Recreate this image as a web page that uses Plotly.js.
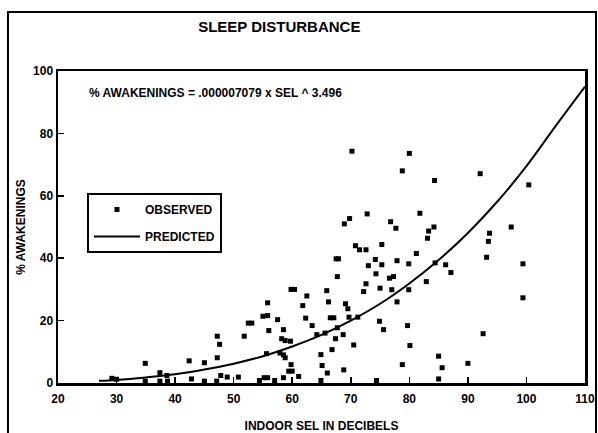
<!DOCTYPE html>
<html>
<head>
<meta charset="utf-8">
<script src="https://cdn.plot.ly/plotly-3.0.1.min.js"></script>
<style>html,body{margin:0;padding:0;background:#fff;}#chart{width:598px;height:433px;}</style>
</head>
<body>
<div id="chart"></div>
<script>
// Observed points (indoor SEL dB, % awakenings)
const obsSEL = [
 29.2,30.0,34.9,34.9,37.4,37.4,38.6,38.7,42.4,42.8,45.0,45.0,47.2,47.6,47.2,47.1,47.8,48.9,50.8,51.8,52.5,53.1,54.4,55.2,55.8,57.0,
 68.9,69.8,76.8,77.7,83.1,83.3,84.2,70.8,71.5,72.6,75.3,81.2,67.5,67.9,74.2,77.9,73.0,75.3,79.9,84.4,86.2,87.1,74.3,67.7,76.6,77.3,
 72.6,82.9,59.8,60.4,65.9,72.2,75.0,77.0,79.9,55.8,62.5,61.8,66.2,69.1,69.5,77.9,55.0,55.8,57.5,62.3,66.5,67.1,69.7,71.2,63.4,74.9,
 79.7,56.0,58.5,75.6,64.2,65.6,67.7,68.7,58.2,58.8,59.7,67.4,55.6,57.9,58.5,58.8,66.8,70.5,80.1,64.9,65.1,59.8,59.4,60.0,68.8,66.0,
 61.1,58.5,78.8,85.0,85.6,85.0,64.9,74.4,
 70.2,80.0,78.8,84.3,72.8,81.8,
 92.1,100.4,97.4,93.7,93.5,93.2,99.4,99.4,92.6,90.0
];
const obsPct = [
 1.5,1.2,6.3,0.6,3.3,0.6,2.4,0.6,7.1,1.3,6.5,0.6,15.0,12.4,8.1,0.6,2.4,1.9,1.9,15.0,19.2,19.2,0.8,1.7,1.7,0.8,
 51.0,52.7,51.7,49.6,46.4,48.7,50.0,44.0,42.7,42.7,44.4,41.5,39.8,39.8,39.6,39.2,37.6,37.9,38.2,38.5,37.9,35.4,35.0,34.1,33.6,34.1,
 31.8,32.5,30.0,30.0,29.6,29.3,30.4,29.9,29.9,25.7,27.9,24.8,26.0,25.4,23.8,26.0,21.4,21.6,20.3,20.8,20.9,20.9,21.1,21.1,18.4,19.8,
 18.4,16.8,17.1,17.1,15.5,16.0,17.7,15.5,14.2,13.6,13.4,14.2,9.4,9.6,9.0,8.1,10.7,12.2,12.0,9.1,5.6,5.9,3.8,3.8,4.2,3.2,
 2.1,1.7,5.9,8.6,4.9,1.3,0.8,0.8,
 74.3,73.6,68.0,64.9,54.2,54.4,
 67.1,63.5,50.0,48.0,45.4,40.3,38.2,27.3,15.8,6.3
];
// Predicted curve
const predSEL = [27,30,35,40,45,50,55,60,65,70,75,80,85,90,95,100,105,110];
const predPct = [0.7,1.0,1.8,2.8,4.3,6.2,8.6,11.7,15.4,20.0,25.4,31.9,39.4,48.1,58.1,69.5,82.4,95.0];

const xTicks = [20,30,40,50,60,70,80,90,100,110];
const yTicks = [0,20,40,60,80,100];

const FONT = 'Liberation Sans, Arial, sans-serif';

const traces = [
  {x: obsSEL, y: obsPct, type: 'scatter', mode: 'markers', name: 'OBSERVED', legendgroup: 'a',
   marker: {symbol: 'square', size: 5, color: '#000'}, cliponaxis: false},
  {x: predSEL, y: predPct, type: 'scatter', mode: 'lines', name: 'PREDICTED', legendgroup: 'b',
   line: {color: '#000', width: 2, shape: 'spline'}}
];

const layout = {
  width: 598, height: 433,
  margin: {l: 58, r: 13, t: 71, b: 50},
  paper_bgcolor: '#fff', plot_bgcolor: '#fff',
  font: {family: FONT, color: '#000'},
  title: {text: 'SLEEP DISTURBANCE', font: {size: 15, weight: 'bold', family: FONT, color: '#000'},
          x: 0.467, xref: 'container', xanchor: 'center', y: 1 - 27/433, yref: 'container', yanchor: 'middle'},
  xaxis: {range: [20, 110], tickvals: xTicks, ticktext: xTicks.map(String), showgrid: false, zeroline: false,
          showline: true, linecolor: '#000', linewidth: 2.5, mirror: true,
          ticks: 'inside', ticklen: 6, tickwidth: 1.5, tickcolor: '#000', ticklabelstandoff: 3,
          tickfont: {size: 12, weight: 'bold', family: FONT},
          title: {text: 'INDOOR SEL IN DECIBELS', font: {size: 12, weight: 'bold', family: FONT}, standoff: 18}},
  yaxis: {range: [0, 100], tickvals: yTicks, ticktext: yTicks.map(String), showgrid: false, zeroline: false,
          showline: true, linecolor: '#000', linewidth: 2.5, mirror: true,
          ticks: 'inside', ticklen: 6, tickwidth: 1.5, tickcolor: '#000',
          tickfont: {size: 12, weight: 'bold', family: FONT},
          title: {text: '% AWAKENINGS', font: {size: 12, weight: 'bold', family: FONT}, standoff: 5}},
  showlegend: true,
  legend: {x: 0.055, y: 0.609, xanchor: 'left', yanchor: 'top', bgcolor: '#fff',
           bordercolor: '#000', borderwidth: 2, font: {size: 12, weight: 'bold', family: FONT},
           traceorder: 'grouped', tracegroupgap: 8, itemwidth: 46, entrywidth: 130},
  annotations: [
    {text: '% AWAKENINGS = .000007079 x SEL ^ 3.496', xref: 'paper', yref: 'paper',
     x: 0.055, y: 0.93, xanchor: 'left', yanchor: 'middle', showarrow: false,
     font: {size: 12, weight: 'bold', family: FONT}}
  ],
  shapes: [
    {type: 'rect', xref: 'paper', yref: 'paper', x0: -0.0949, x1: 1.0209, y0: -0.25, y1: 1.189,
     line: {color: '#000', width: 2}, layer: 'below'}
  ]
};

Plotly.newPlot('chart', traces, layout, {displayModeBar: false, staticPlot: true});
</script>
</body>
</html>
